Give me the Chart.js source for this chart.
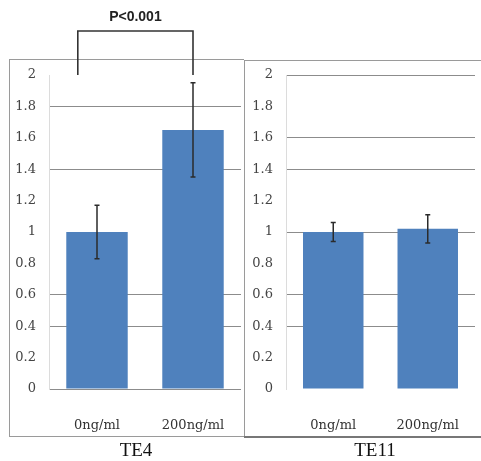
<!DOCTYPE html>
<html>
<head>
<meta charset="utf-8">
<script src="https://cdn.jsdelivr.net/npm/chart.js@4"></script>
<style>
  body { margin: 0; background: #fff; }
  .panel { position: absolute; top: 0; height: 461px; }
  #left { left: 0; width: 244px; }
  #right { left: 244px; width: 237px; }
</style>
</head>
<body>
<div class="panel" id="left"><canvas id="chartTE4"></canvas></div>
<div class="panel" id="right"><canvas id="chartTE11"></canvas></div>
<script>
// data
const doses = ['0ng/ml', '200ng/ml'];
const yTicks = [0, 0.2, 0.4, 0.6, 0.8, 1, 1.2, 1.4, 1.6, 1.8, 2];

const te4Values = [1.0, 1.65];
const te4Errors = [0.17, 0.30];

const te11Values = [1.0, 1.02];
const te11Errors = [0.06, 0.09];

const pLabel = 'P<0.001';

// the scan only kept some gridlines
const te4Grid = [0, 0.4, 0.6, 1.4, 1.8];
const te11Grid = [0.4, 0.6, 1, 1.4, 1.6, 2];

const barBlue = '#4f81bd';
const tickFont = { family: 'DejaVu Serif', size: 13 };

const errorBars = {
    id: 'errorBars',
    afterDatasetsDraw(chart) {
        const errs = chart.options.plugins.errorBars.errors;
        const vals = chart.data.datasets[0].data;
        const y = chart.scales.y;
        const c = chart.ctx;
        c.save();
        c.strokeStyle = '#2b2b2b';
        c.lineWidth = 1.5;
        chart.getDatasetMeta(0).data.forEach((bar, i) => {
            const top = y.getPixelForValue(vals[i] + errs[i]);
            const bot = y.getPixelForValue(vals[i] - errs[i]);
            c.beginPath();
            c.moveTo(bar.x, top); c.lineTo(bar.x, bot);
            c.moveTo(bar.x - 2.5, top); c.lineTo(bar.x + 2.5, top);
            c.moveTo(bar.x - 2.5, bot); c.lineTo(bar.x + 2.5, bot);
            c.stroke();
        });
        c.restore();
    }
};

const panelDecor = {
    id: 'panelDecor',
    afterDraw(chart) {
        const o = chart.options.plugins.panelDecor;
        const c = chart.ctx;
        c.save();
        c.strokeStyle = '#9a9a9a';
        c.lineWidth = 1;
        c.beginPath();
        o.lines.forEach(l => { c.moveTo(l[0], l[1]); c.lineTo(l[2], l[3]); });
        c.stroke();
        if (o.bottom) {
            c.strokeStyle = '#777';
            c.lineWidth = 2;
            c.beginPath();
            c.moveTo(o.bottom[0], o.bottom[1]); c.lineTo(o.bottom[2], o.bottom[1]);
            c.stroke();
        }
        c.fillStyle = '#111';
        c.font = '19px "Liberation Serif"';
        c.textAlign = 'center';
        c.textBaseline = 'middle';
        c.fillText(o.label, o.labelX, 451);

        if (o.bracket) {
            const x = chart.scales.x;
            const y = chart.scales.y;
            const x1 = x.getPixelForValue(-0.2);
            const x2 = x.getPixelForValue(1);
            const yTop = 31;
            const yEnd = y.getPixelForValue(2);
            c.strokeStyle = '#333';
            c.lineWidth = 1.6;
            c.beginPath();
            c.moveTo(x1, yEnd); c.lineTo(x1, yTop); c.lineTo(x2, yTop); c.lineTo(x2, yEnd);
            c.stroke();
            c.fillStyle = '#222';
            c.font = 'bold 14px "Liberation Sans"';
            c.fillText(pLabel, (x1 + x2) / 2, 17);
        }
        c.restore();
    }
};

function makePanel(id, values, errors, gridAt, yWidth, padRight, decor) {
    new Chart(document.getElementById(id), {
        type: 'bar',
        data: {
            labels: doses,
            datasets: [{
                data: values,
                backgroundColor: barBlue,
                borderWidth: 0,
                barPercentage: 0.8,
                categoryPercentage: 0.8
            }]
        },
        options: {
            responsive: true,
            maintainAspectRatio: false,
            animation: false,
            layout: { padding: { top: 75, right: padRight, bottom: 0, left: 0 } },
            plugins: {
                legend: { display: false },
                tooltip: { enabled: false },
                errorBars: { errors: errors },
                panelDecor: decor
            },
            scales: {
                x: {
                    grid: { display: false },
                    border: { display: false },
                    ticks: { font: tickFont, color: '#333', padding: 21 },
                    afterFit(s) { s.height = 72; s.paddingLeft = 0; s.paddingRight = 0; }
                },
                y: {
                    min: 0,
                    max: 2,
                    afterBuildTicks(s) { s.ticks = yTicks.map(v => ({ value: v })); },
                    grid: {
                        drawTicks: false,
                        lineWidth: 1,
                        color: ctx => gridAt.includes(ctx.tick && ctx.tick.value) ? '#8c8c8c' : 'rgba(0,0,0,0)'
                    },
                    border: { color: '#dcdcdc' },
                    ticks: {
                        font: tickFont,
                        color: '#444',
                        padding: 13,
                        callback: v => String(v)
                    },
                    afterFit(s) { s.width = yWidth; s.paddingTop = 0; s.paddingBottom = 0; }
                }
            }
        },
        plugins: [errorBars, panelDecor]
    });
}

makePanel('chartTE4', te4Values, te4Errors, te4Grid, 49, 3, {
    label: 'TE4',
    labelX: 136,
    bracket: true,
    lines: [[9, 59.5, 244, 59.5], [9.5, 59.5, 9.5, 437], [9, 436.5, 244, 436.5]]
});

makePanel('chartTE11', te11Values, te11Errors, te11Grid, 42, 6, {
    label: 'TE11',
    labelX: 131,
    bracket: false,
    lines: [[0, 60.5, 237, 60.5], [0.5, 60, 0.5, 437]],
    bottom: [0, 437, 237]
});
</script>
</body>
</html>
